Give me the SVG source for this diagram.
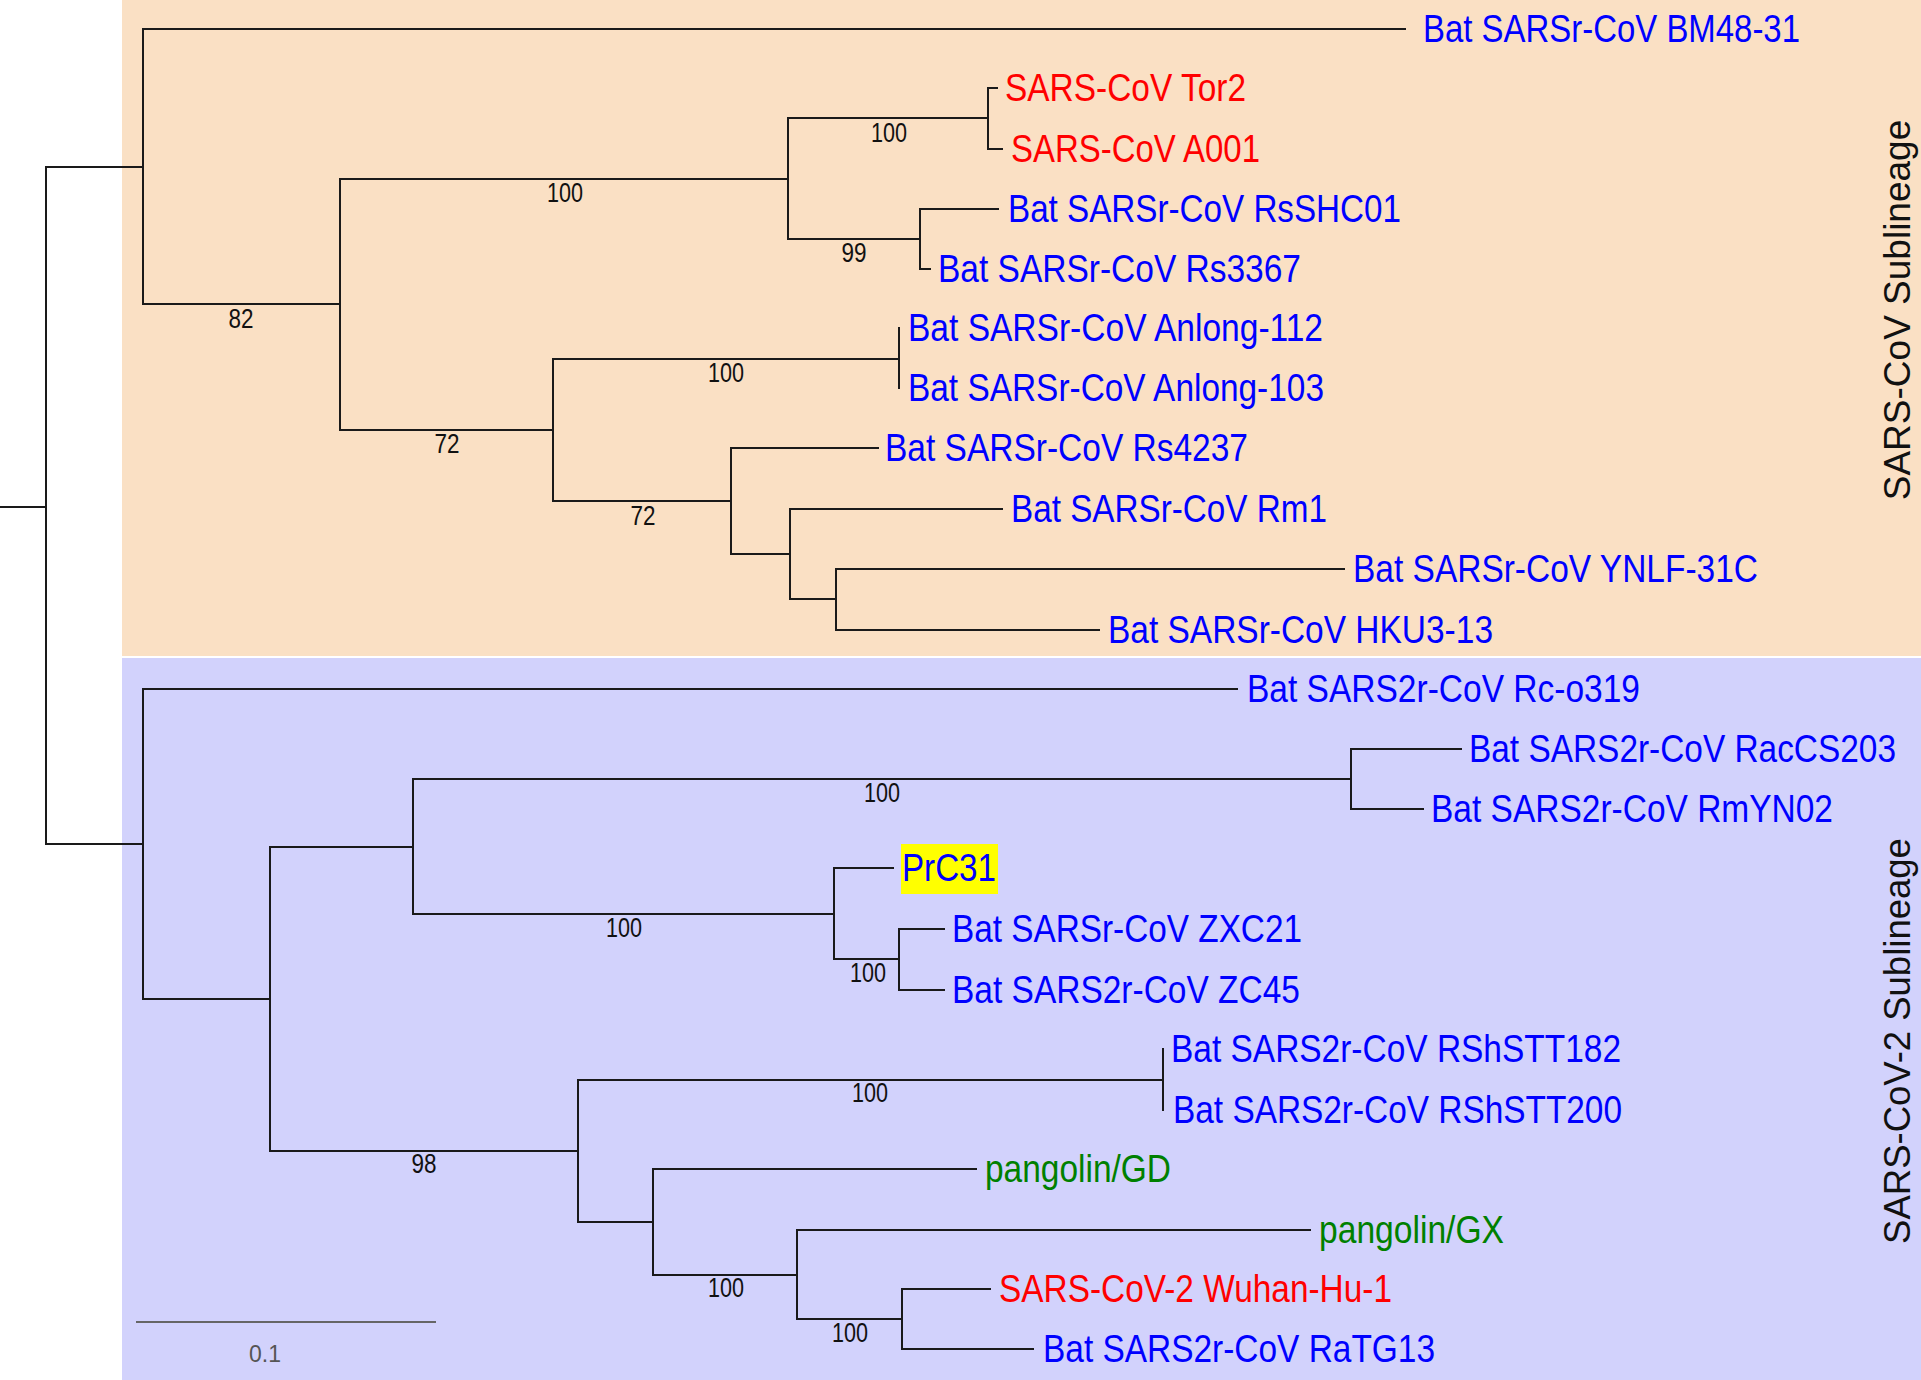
<svg xmlns="http://www.w3.org/2000/svg" width="1921" height="1380" viewBox="0 0 1921 1380">
<style>
.bga{fill:#FAE0C4}
.bgb{fill:#D2D2FC}
.br{fill:none;stroke:#1a1a1a;stroke-width:2;stroke-linecap:square}
.lf{font-family:"Liberation Sans",Arial,Helvetica,sans-serif;font-size:38px}
.blue{fill:#0000FF}
.red{fill:#FF0000}
.green{fill:#008000}
.bs{font-family:"Liberation Sans",Arial,Helvetica,sans-serif;font-size:28px;fill:#111;text-anchor:middle}
.side{font-family:"Liberation Sans",Arial,Helvetica,sans-serif;fill:#111;text-anchor:middle}
.sbar{stroke:#666;stroke-width:2}
.sbt{font-family:"Liberation Sans",Arial,Helvetica,sans-serif;font-size:23px;fill:#555;text-anchor:middle}
.hl{fill:#FFFF00}
</style>
<rect id="bg-white" x="0" y="0" width="1921" height="1380" fill="#FFFFFF"/>
<rect id="region-sars" class="bga" x="122" y="0" width="1799" height="656"/>
<rect id="region-sars2" class="bgb" x="122" y="658" width="1799" height="722"/>

<g id="connectors">
<path class="br" d="M0,507 H46 M46,167 V844 M46,167 H143 M46,844 H143"/>
<path class="br" d="M143,29 V304 M143,29 H1405 M143,304 H340"/>
<path class="br" d="M340,179 V430 M340,179 H788 M340,430 H553"/>
<path class="br" d="M788,118 V239 M788,118 H988 M788,239 H920"/>
<path class="br" d="M988,88 V149 M988,88 H997 M988,149 H1002"/>
<path class="br" d="M920,209 V269 M920,209 H998 M920,269 H930"/>
<path class="br" d="M553,359 V501 M553,359 H899 M553,501 H731"/>
<path class="br" d="M899,328 V388"/>
<path class="br" d="M731,448 V554 M731,448 H878 M731,554 H790"/>
<path class="br" d="M790,509 V599 M790,509 H1002 M790,599 H836"/>
<path class="br" d="M836,569 V630 M836,569 H1344 M836,630 H1099"/>
<path class="br" d="M143,689 V999 M143,689 H1237 M143,999 H270"/>
<path class="br" d="M270,847 V1151 M270,847 H413 M270,1151 H578"/>
<path class="br" d="M413,779 V914 M413,779 H1351 M413,914 H834"/>
<path class="br" d="M1351,749 V809 M1351,749 H1461 M1351,809 H1423"/>
<path class="br" d="M834,868 V959 M834,868 H893 M834,959 H899"/>
<path class="br" d="M899,929 V990 M899,929 H944 M899,990 H944"/>
<path class="br" d="M578,1080 V1222 M578,1080 H1163 M578,1222 H653"/>
<path class="br" d="M1163,1049 V1110"/>
<path class="br" d="M653,1169 V1275 M653,1169 H976 M653,1275 H797"/>
<path class="br" d="M797,1230 V1319 M797,1230 H1310 M797,1319 H902"/>
<path class="br" d="M902,1289 V1349 M902,1289 H990 M902,1349 H1033"/>
</g>

<g id="supports">
<text class="bs" x="565" y="202" textLength="36" lengthAdjust="spacingAndGlyphs">100</text>
<text class="bs" x="241" y="328" textLength="25" lengthAdjust="spacingAndGlyphs">82</text>
<text class="bs" x="889" y="142" textLength="36" lengthAdjust="spacingAndGlyphs">100</text>
<text class="bs" x="854" y="262" textLength="25" lengthAdjust="spacingAndGlyphs">99</text>
<text class="bs" x="447" y="453" textLength="25" lengthAdjust="spacingAndGlyphs">72</text>
<text class="bs" x="726" y="382" textLength="36" lengthAdjust="spacingAndGlyphs">100</text>
<text class="bs" x="643" y="525" textLength="25" lengthAdjust="spacingAndGlyphs">72</text>
<text class="bs" x="882" y="802" textLength="36" lengthAdjust="spacingAndGlyphs">100</text>
<text class="bs" x="624" y="937" textLength="36" lengthAdjust="spacingAndGlyphs">100</text>
<text class="bs" x="868" y="982" textLength="36" lengthAdjust="spacingAndGlyphs">100</text>
<text class="bs" x="424" y="1173" textLength="25" lengthAdjust="spacingAndGlyphs">98</text>
<text class="bs" x="870" y="1102" textLength="36" lengthAdjust="spacingAndGlyphs">100</text>
<text class="bs" x="726" y="1297" textLength="36" lengthAdjust="spacingAndGlyphs">100</text>
<text class="bs" x="850" y="1342" textLength="36" lengthAdjust="spacingAndGlyphs">100</text>
</g>

<g id="leaf-BM48-31"><text class="lf blue" x="1423" y="42" textLength="377" lengthAdjust="spacingAndGlyphs">Bat SARSr-CoV BM48-31</text></g>
<g id="leaf-Tor2"><text class="lf red" x="1005" y="101" textLength="241" lengthAdjust="spacingAndGlyphs">SARS-CoV Tor2</text></g>
<g id="leaf-A001"><text class="lf red" x="1011" y="162" textLength="249" lengthAdjust="spacingAndGlyphs">SARS-CoV A001</text></g>
<g id="leaf-RsSHC01"><text class="lf blue" x="1008" y="222" textLength="393" lengthAdjust="spacingAndGlyphs">Bat SARSr-CoV RsSHC01</text></g>
<g id="leaf-Rs3367"><text class="lf blue" x="938" y="282" textLength="363" lengthAdjust="spacingAndGlyphs">Bat SARSr-CoV Rs3367</text></g>
<g id="leaf-Anlong-112"><text class="lf blue" x="908" y="341" textLength="415" lengthAdjust="spacingAndGlyphs">Bat SARSr-CoV Anlong-112</text></g>
<g id="leaf-Anlong-103"><text class="lf blue" x="908" y="401" textLength="416" lengthAdjust="spacingAndGlyphs">Bat SARSr-CoV Anlong-103</text></g>
<g id="leaf-Rs4237"><text class="lf blue" x="885" y="461" textLength="363" lengthAdjust="spacingAndGlyphs">Bat SARSr-CoV Rs4237</text></g>
<g id="leaf-Rm1"><text class="lf blue" x="1011" y="522" textLength="316" lengthAdjust="spacingAndGlyphs">Bat SARSr-CoV Rm1</text></g>
<g id="leaf-YNLF-31C"><text class="lf blue" x="1353" y="582" textLength="405" lengthAdjust="spacingAndGlyphs">Bat SARSr-CoV YNLF-31C</text></g>
<g id="leaf-HKU3-13"><text class="lf blue" x="1108" y="643" textLength="385" lengthAdjust="spacingAndGlyphs">Bat SARSr-CoV HKU3-13</text></g>
<g id="leaf-Rc-o319"><text class="lf blue" x="1247" y="702" textLength="393" lengthAdjust="spacingAndGlyphs">Bat SARS2r-CoV Rc-o319</text></g>
<g id="leaf-RacCS203"><text class="lf blue" x="1469" y="762" textLength="427" lengthAdjust="spacingAndGlyphs">Bat SARS2r-CoV RacCS203</text></g>
<g id="leaf-RmYN02"><text class="lf blue" x="1431" y="822" textLength="402" lengthAdjust="spacingAndGlyphs">Bat SARS2r-CoV RmYN02</text></g>
<g id="leaf-PrC31"><rect class="hl" x="901" y="844" width="97" height="50"/><text class="lf blue" x="902" y="881" textLength="94" lengthAdjust="spacingAndGlyphs">PrC31</text></g>
<g id="leaf-ZXC21"><text class="lf blue" x="952" y="942" textLength="350" lengthAdjust="spacingAndGlyphs">Bat SARSr-CoV ZXC21</text></g>
<g id="leaf-ZC45"><text class="lf blue" x="952" y="1003" textLength="348" lengthAdjust="spacingAndGlyphs">Bat SARS2r-CoV ZC45</text></g>
<g id="leaf-RShSTT182"><text class="lf blue" x="1171" y="1062" textLength="450" lengthAdjust="spacingAndGlyphs">Bat SARS2r-CoV RShSTT182</text></g>
<g id="leaf-RShSTT200"><text class="lf blue" x="1173" y="1123" textLength="449" lengthAdjust="spacingAndGlyphs">Bat SARS2r-CoV RShSTT200</text></g>
<g id="leaf-pangolin-GD"><text class="lf green" x="985" y="1182" textLength="186" lengthAdjust="spacingAndGlyphs">pangolin/GD</text></g>
<g id="leaf-pangolin-GX"><text class="lf green" x="1319" y="1243" textLength="185" lengthAdjust="spacingAndGlyphs">pangolin/GX</text></g>
<g id="leaf-Wuhan-Hu-1"><text class="lf red" x="999" y="1302" textLength="393" lengthAdjust="spacingAndGlyphs">SARS-CoV-2 Wuhan-Hu-1</text></g>
<g id="leaf-RaTG13"><text class="lf blue" x="1043" y="1362" textLength="392" lengthAdjust="spacingAndGlyphs">Bat SARS2r-CoV RaTG13</text></g>

<g id="label-sars-cov"><text class="side" x="1910" y="310" font-size="37" transform="rotate(-90 1910 310)">SARS-CoV Sublineage</text></g>
<g id="label-sars-cov-2"><text class="side" x="1910" y="1041" font-size="36.5" transform="rotate(-90 1910 1041)">SARS-CoV-2 Sublineage</text></g>

<g id="scale-bar">
<path class="sbar" d="M136,1322 H436"/>
<text class="sbt" x="265" y="1362">0.1</text>
</g>
</svg>
